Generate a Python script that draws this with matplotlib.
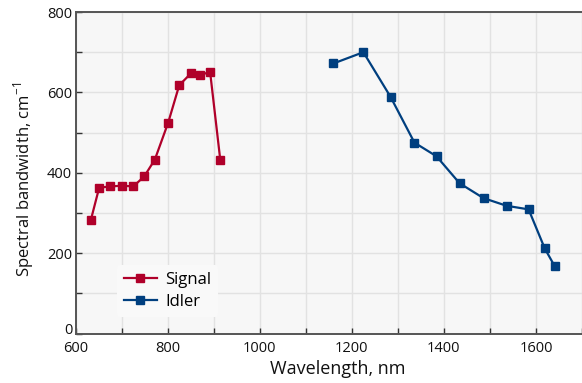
import matplotlib.pyplot as plt
from matplotlib.ticker import MultipleLocator

plt.rcParams['font.family'] = ['Open Sans', 'DejaVu Sans']
plt.rcParams['mathtext.fontset'] = 'custom'
plt.rcParams['mathtext.rm'] = 'Open Sans'

# Signal branch
signal_wl = [633, 651, 675, 701, 725, 749, 772, 801, 825, 851, 870, 892, 914]
signal_bw = [283, 363, 366, 368, 366, 391, 433, 525, 618, 648, 643, 651, 433]

# Idler branch
idler_wl = [1160, 1225, 1284, 1336, 1384, 1434, 1486, 1536, 1584, 1619, 1641]
idler_bw = [672, 700, 589, 475, 441, 374, 337, 318, 309, 212, 167]

signal_color = '#b0002a'
idler_color = '#003f7f'

fig = plt.figure(figsize=(5.82, 3.83), dpi=100)
ax = fig.add_axes([75.7 / 582, 1 - 333.6 / 383, 1 - 75.7 / 582, (333.6 - 12) / 383])
ax.set_facecolor('#f7f7f7')

ax.plot(signal_wl, signal_bw, '-s', color=signal_color, lw=1.6, ms=5.5, label='Signal')
ax.plot(idler_wl, idler_bw, '-s', color=idler_color, lw=1.6, ms=5.5, label='Idler')

ax.set_xlim(600, 1700)
ax.set_ylim(0, 800)
ax.xaxis.set_major_locator(MultipleLocator(200))
ax.xaxis.set_minor_locator(MultipleLocator(100))
ax.yaxis.set_major_locator(MultipleLocator(200))
ax.yaxis.set_minor_locator(MultipleLocator(100))
ax.grid(which='both', color='#e2e2e2', lw=1.0)
ax.set_axisbelow(True)
ax.tick_params(which='both', direction='in', length=4, width=1, color='#333333',
               labelsize=10.5, labelcolor='#111111')
ax.tick_params(axis='x', pad=5.5)
ax.tick_params(axis='y', pad=2.5)

for side in ['left', 'bottom', 'top']:
    ax.spines[side].set_color('#555555')
    ax.spines[side].set_linewidth(1.4)
ax.spines['right'].set_visible(False)

ax.set_xlabel('Wavelength, nm', fontsize=13, color='#111111')
ax.set_ylabel('Spectral bandwidth, cm$^{\\mathregular{-1}}$', fontsize=12, color='#111111')
ax.xaxis.set_label_coords(0.518, -0.083)
ax.yaxis.set_label_coords(-0.078, 0.48)

leg = ax.legend(loc='lower left', bbox_to_anchor=(0.065, 0.027), fontsize=12,
                frameon=True, handlelength=2.0, borderpad=0.4, labelspacing=0.35,
                handletextpad=0.5)
leg.get_frame().set_facecolor('#f9f9f9')
leg.get_frame().set_edgecolor('none')
leg.get_frame().set_alpha(1.0)

# the "0" sits on its baseline so it clears the "600" below it
fig.canvas.draw()
for tick in ax.yaxis.get_major_ticks():
    if tick.get_loc() == 0:
        tick.label1.set_va('baseline')

fig.savefig('out.png', dpi=100)
